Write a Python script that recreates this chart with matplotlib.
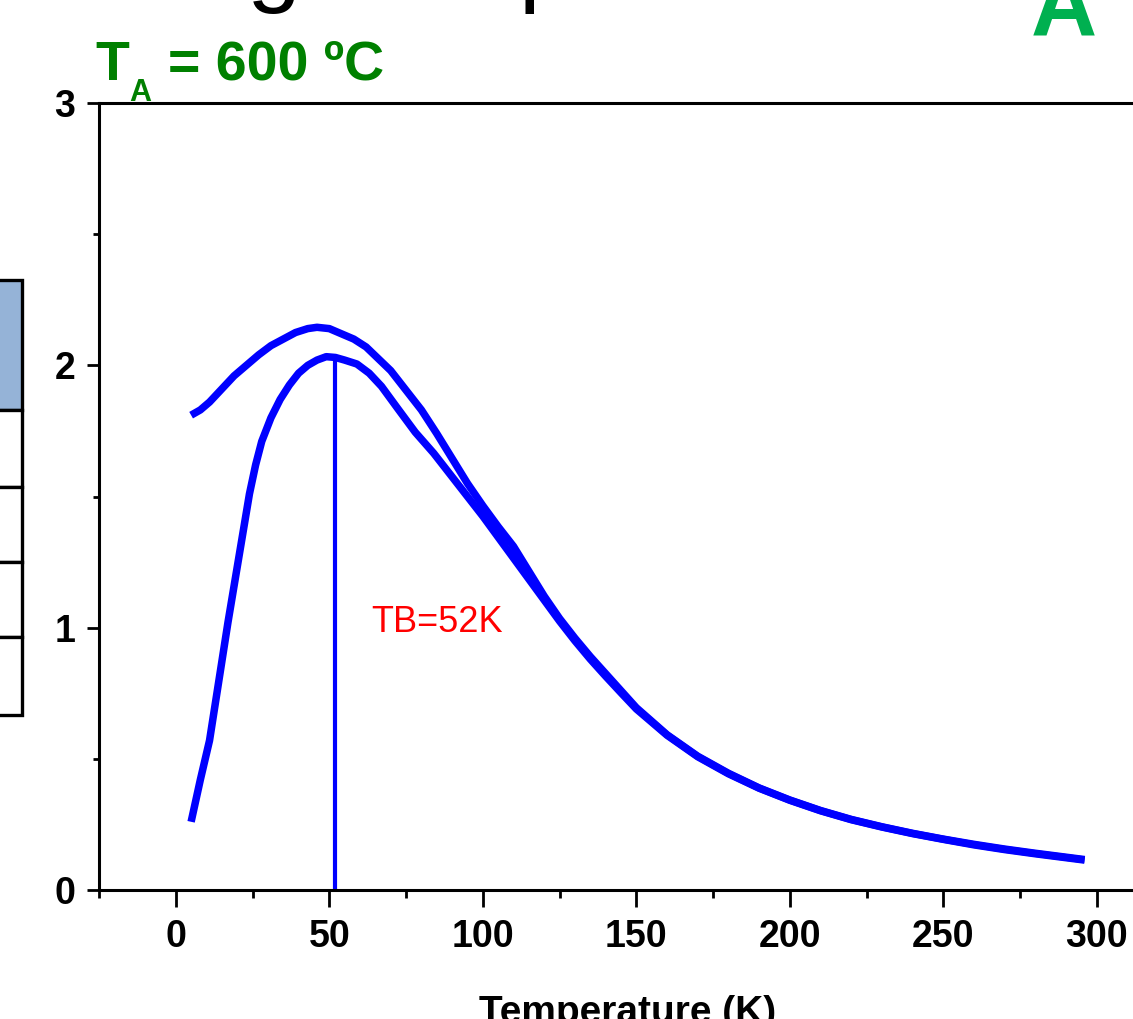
import matplotlib
matplotlib.use('Agg')
import matplotlib.pyplot as plt
from matplotlib.patches import Rectangle
from matplotlib.ticker import MultipleLocator

plt.rcParams['font.family'] = ['Liberation Sans', 'DejaVu Sans']

# FC curve (upper branch)
fc_temp = [5, 8, 11, 15, 19, 23, 27, 31, 35, 39, 43, 46, 50, 54, 58, 62, 66, 70,
           75, 80, 85, 90, 95, 100, 105, 110, 115, 120, 125, 130, 135, 140, 145,
           150, 160, 170, 180, 190, 200, 210, 220, 230, 240, 250, 260, 270, 280,
           290, 296]
fc_mag = [1.81, 1.83, 1.86, 1.91, 1.96, 2.00, 2.04, 2.075, 2.10, 2.125, 2.14, 2.145,
          2.14, 2.12, 2.10, 2.07, 2.025, 1.98, 1.905, 1.83, 1.74, 1.645, 1.55, 1.465,
          1.385, 1.31, 1.215, 1.12, 1.035, 0.96, 0.89, 0.825, 0.76, 0.695, 0.592,
          0.51, 0.445, 0.389, 0.343, 0.303, 0.269, 0.241, 0.216, 0.194, 0.174, 0.156,
          0.14, 0.125, 0.116]

# ZFC curve (lower branch)
zfc_temp = [5, 8, 11, 13, 15, 17, 20, 22, 24, 26, 28, 31, 34, 37, 40, 43, 46, 49,
            52, 55, 59, 63, 67, 72, 78, 84, 89, 95, 100, 105, 110, 115, 120, 125,
            130, 135, 140, 145, 150, 160, 170, 180, 190, 200, 210, 220, 230, 240,
            250, 260, 270, 280, 290, 296]
zfc_mag = [0.26, 0.42, 0.57, 0.72, 0.87, 1.02, 1.23, 1.37, 1.51, 1.62, 1.71, 1.80,
           1.87, 1.925, 1.97, 2.00, 2.02, 2.033, 2.03, 2.02, 2.005, 1.97, 1.92,
           1.84, 1.745, 1.665, 1.59, 1.50, 1.425, 1.345, 1.265, 1.185, 1.105, 1.025,
           0.95, 0.88, 0.815, 0.752, 0.69, 0.59, 0.508, 0.443, 0.388, 0.342, 0.302,
           0.268, 0.24, 0.215, 0.193, 0.172, 0.154, 0.138, 0.123, 0.114]

t_block = 52
t_block_mag = 2.03

fig = plt.figure(figsize=(11.33, 10.19), dpi=100)
ax = fig.add_axes([99 / 1133, 129 / 1019, 1090 / 1133, 787 / 1019])

ax.plot(fc_temp, fc_mag, color='#0000ff', lw=5.4, solid_capstyle='butt')
ax.plot(zfc_temp, zfc_mag, color='#0000ff', lw=5.4, solid_capstyle='butt')
ax.plot([t_block, t_block], [0, t_block_mag], color='#0000ff', lw=3)
ax.text(63.8, 1.02, 'TB=52K', color='#ff0000', fontsize=26, ha='left', va='center')

ax.set_xlim(-25, 330)
ax.set_ylim(0, 3)
ax.xaxis.set_major_locator(MultipleLocator(50))
ax.xaxis.set_minor_locator(MultipleLocator(25))
ax.yaxis.set_major_locator(MultipleLocator(1))
ax.yaxis.set_minor_locator(MultipleLocator(0.5))
ax.tick_params(which='major', direction='out', length=12, width=2, labelsize=27, pad=9)
ax.tick_params(which='minor', direction='out', length=6, width=2)
ax.tick_params(axis='y', which='major', length=9, pad=8)
ax.tick_params(axis='y', which='minor', length=4)
for lab in ax.get_xticklabels() + ax.get_yticklabels():
    lab.set_fontweight('bold')
for side in ['left', 'bottom', 'top', 'right']:
    ax.spines[side].set_linewidth(2.2)
ax.set_xlabel('Temperature (K)', fontsize=28, fontweight='bold', va='top')
ax.xaxis.set_label_coords((628 - 99) / 1090, (890 - 995) / 787)

# annealing temperature label
green = '#008000'
fig.text(95 / 1133, 1 - 80 / 1019, 'T', color=green, fontsize=40, fontweight='bold',
         ha='left', va='baseline')
fig.text(129 / 1133, 1 - 101 / 1019, 'A', color=green, fontsize=22, fontweight='bold',
         ha='left', va='baseline')
fig.text(168 / 1133, 1 - 80 / 1019, '= 600 ºC', color=green, fontsize=40, fontweight='bold',
         ha='left', va='baseline')

# panel letter
fig.text(1031 / 1133, 1 - 36 / 1019, 'A', color='#00b050', fontsize=66, fontweight='bold',
         ha='left', va='baseline')

# clipped title fragments above the panel
fig.text(274 / 1133, 1 + 6 / 1019, 'g', color='black', fontsize=70, ha='center', va='baseline')
fig.text(519 / 1133, 1 + 6 / 1019, 'p', color='black', fontsize=70, ha='left', va='baseline')

# clipped table at the left edge
cell_edges = [280, 410, 487, 562, 637, 715]
for i in range(len(cell_edges) - 1):
    top, bot = cell_edges[i], cell_edges[i + 1]
    face = '#95b3d7' if i == 0 else 'white'
    fig.add_artist(Rectangle((-40 / 1133, 1 - bot / 1019), 62 / 1133, (bot - top) / 1019,
                             transform=fig.transFigure, facecolor=face,
                             edgecolor='black', lw=2.4))

plt.savefig('out.png', dpi=100)
